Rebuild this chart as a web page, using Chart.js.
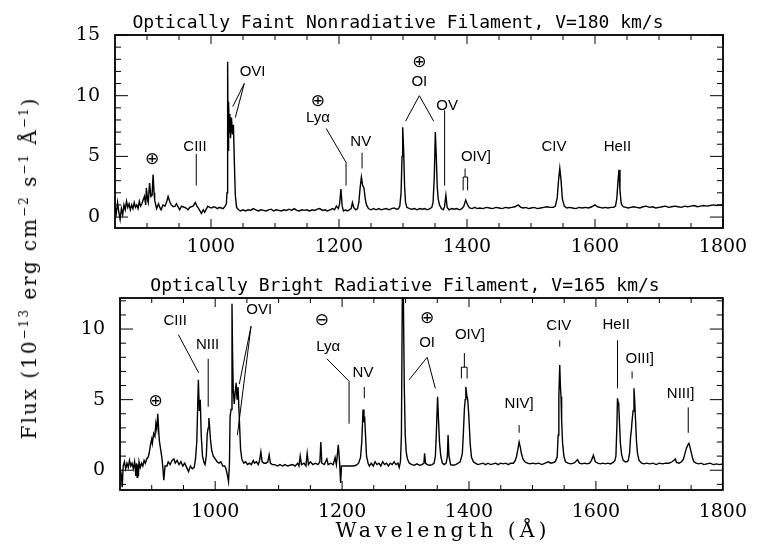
<!DOCTYPE html>
<html>
<head>
<meta charset="utf-8">
<script src="https://cdn.jsdelivr.net/npm/chart.js@4.4.1/dist/chart.umd.min.js"></script>
<style>
  body { margin: 0; background: #fff; }
  #wrap { position: relative; width: 758px; height: 552px; overflow: hidden; }
  canvas { position: absolute; left: 0; }
  .axt { position: absolute; white-space: nowrap; color: #000; font-family: 'DejaVu Serif'; }
  #ytitle { left: 29px; top: 268px; font-size: 20px; letter-spacing: 2px;
            transform: translate(-50%, -50%) rotate(-90deg); }
  #ytitle sup { font-size: 12px; }
  #xtitle { left: 443px; top: 530px; font-size: 20.5px; letter-spacing: 4px;
            transform: translate(-50%, -50%); }
</style>
</head>
<body>
<div id="wrap">
  <canvas id="top" width="758" height="270" style="top:0"></canvas>
  <canvas id="bot" width="758" height="282" style="top:270px"></canvas>
  <div id="ytitle" class="axt">Flux (10<sup>−13</sup> erg cm<sup>−2</sup> s<sup>−1</sup> Å<sup>−1</sup>)</div>
  <div id="xtitle" class="axt">Wavelength (Å)</div>
</div>
<script>
// upper panel: optically faint nonradiative filament
const topWave = [850,852,854,856,858,860,862,864,866,868,870,872,874,876,878,880,882,884,886,888,890,892,894,896,898,899,901,902,904,906,908,909.5,911,912,915,918,920,922,925,928,931,933,936,938,941,944,946,949,951,954,956,959,962,964,967,969,972,975.5,978,980,983,985,988,990,993,995,998,1001,1004,1007,1010,1013,1016,1019,1022,1024,1025,1026,1026.8,1027.5,1028.5,1029.5,1030.5,1032,1033.5,1035,1036.5,1038,1040,1043,1046,1050,1054,1058,1062,1066,1070,1074,1078,1082,1086,1090,1094,1098,1102,1106,1110,1114,1118,1122,1126,1130,1134,1138,1142,1146,1150,1154,1158,1162,1166,1170,1174,1178,1182,1186,1190,1193,1196,1199,1201,1203,1205,1207,1210,1213,1216,1219,1221,1223,1226,1229,1231,1233,1235,1237,1239,1241,1243,1246,1250,1254,1258,1262,1266,1270,1274,1278,1282,1286,1290,1293,1295,1297,1298.5,1299.5,1301,1302.5,1304,1306,1310,1314,1318,1322,1326,1330,1334,1338,1342,1345,1347,1349,1350.5,1352,1353.5,1355,1357,1360,1363,1365,1367,1369,1372,1376,1380,1384,1388,1392,1395,1398,1401,1404,1408,1412,1416,1420,1425,1430,1435,1440,1445,1450,1455,1460,1465,1470,1475,1480,1484,1488,1492,1496,1500,1505,1510,1515,1520,1525,1530,1535,1538,1541,1543,1545,1547,1549,1552,1556,1560,1565,1570,1575,1580,1585,1590,1595,1600,1604,1608,1612,1616,1620,1625,1629,1632,1634,1636,1637.5,1639,1641,1644,1648,1652,1656,1660,1665,1670,1675,1680,1685,1690,1695,1700,1705,1710,1715,1720,1725,1730,1735,1740,1745,1750,1755,1760,1765,1770,1775,1780,1785,1790,1795,1800];
const topFlux = [0.9,0.3,1.2,0.4,-0.2,0.7,0.2,1.0,0.6,1.3,0.8,1.1,0.6,1.0,0.7,1.2,0.8,1.0,0.7,1.3,0.9,1.1,1.4,1.7,1.0,2.4,1.4,1.2,2.8,1.7,1.8,3.5,2.0,1.4,0.7,1.1,0.8,0.6,1.0,0.9,1.3,1.7,1.2,1.0,0.85,0.9,1.1,0.8,0.6,0.9,0.85,0.8,0.7,0.6,0.8,0.85,0.9,1.2,0.9,0.75,0.5,0.3,0.6,0.4,0.7,0.9,0.8,0.75,0.85,0.8,0.7,0.8,0.75,0.7,0.9,1.1,2.0,12.8,5.5,9.5,7.0,8.5,6.5,8.2,6.8,7.6,4.5,1.8,0.8,0.6,0.5,0.6,0.5,0.6,0.55,0.7,0.6,0.5,0.6,0.55,0.5,0.6,0.65,0.5,0.6,0.55,0.5,0.6,0.55,0.65,0.55,0.7,0.55,0.5,0.6,0.55,0.6,0.5,0.6,0.55,0.65,0.7,0.55,0.6,0.5,0.6,0.7,0.6,0.9,0.7,1.1,2.3,0.9,0.5,0.6,0.5,0.6,0.7,1.2,0.8,0.6,0.7,1.2,2.4,3.3,2.6,2.4,1.5,1.0,0.7,0.6,0.7,0.6,0.7,0.6,0.65,0.7,0.6,0.7,0.75,0.65,0.7,0.9,2.0,5.0,7.4,5.5,2.5,1.2,0.8,0.7,0.65,0.7,0.6,0.7,0.65,0.7,0.6,0.7,0.8,1.2,3.5,7.0,5.0,2.5,1.5,1.0,0.7,0.6,0.9,1.8,0.8,0.6,0.7,0.65,0.7,0.6,0.7,0.9,1.4,1.0,0.75,0.7,0.8,0.7,0.75,0.7,0.8,0.75,0.7,0.8,0.75,0.7,0.8,0.75,0.8,0.85,1.0,0.8,0.75,0.8,0.7,0.75,0.8,0.7,0.75,0.8,0.85,0.8,0.8,0.9,1.6,3.0,4.0,3.0,1.5,0.9,0.75,0.8,0.75,0.7,0.8,0.75,0.8,0.75,0.85,1.0,0.85,0.8,0.75,0.8,0.75,0.8,0.8,0.9,1.5,3.0,3.9,2.2,1.1,0.85,0.8,0.75,0.8,0.85,0.8,0.75,0.85,0.9,0.8,0.85,0.75,0.8,0.85,0.9,0.8,0.85,0.9,0.85,0.8,0.9,0.85,0.9,0.95,0.85,0.9,0.95,0.9,0.95,1.0,0.95,1.0,1.0];

// lower panel: optically bright radiative filament
const botWave = [850,852,853.5,855,857,859,861,863,865,867,869,871,873,875,876,877,878,879,880,882,884,886,888,890,892,894,896,898,900,901,903,905,906.5,908,909.5,911,912,914,916,917.5,919,921,924,926,929,932,935,937,940,943,946,949,952,955,958,961,964,967,969,971,973.5,975,976.5,978,980,982,984,986,987.5,989,990,991,992.5,994.5,997,1000,1003,1006,1009,1012,1015,1017,1019,1021,1022.5,1023.5,1025,1026.5,1027.5,1028.5,1030,1031.5,1033,1034.5,1036,1038,1040,1042,1045,1048,1051,1054,1057,1060,1062,1065,1068,1070,1072,1074,1077,1080,1083,1085,1087,1090,1094,1098,1102,1106,1110,1114,1118,1122,1126,1130,1132,1134,1136,1140,1143,1145,1147,1150,1154,1158,1162,1165,1166.5,1168,1172,1176,1178,1182,1186,1189,1191,1194,1196,1197.7,1199,1203,1208,1213,1218,1222,1226,1229,1231,1233,1234.5,1235.5,1237,1238.5,1241,1243,1246,1249,1252,1255,1258,1261,1264,1267,1270,1273,1276,1279,1282,1285,1288,1290,1292,1293.5,1295,1296.5,1298,1299.5,1301,1303,1306,1310,1314,1318,1322,1326,1329,1330,1331.5,1334,1338,1342,1345,1347,1348.5,1350.5,1352,1353.5,1355.5,1358,1361,1364,1366,1367,1368.5,1371,1375,1379,1383,1386,1388,1389.5,1391,1392.7,1394,1395,1396.5,1398,1399.5,1400.5,1402,1404,1407,1410,1414,1418,1422,1426,1430,1434,1438,1442,1446,1450,1454,1458,1462,1466,1470,1473,1475,1476.7,1479,1481,1482.5,1485,1488,1492,1496,1500,1505,1510,1515,1520,1525,1529,1533,1536,1539,1540.5,1541.6,1543,1544,1545,1546,1547.5,1549.5,1552,1556,1560,1565,1568,1571,1574,1578,1582,1586,1590,1593,1596,1599,1603,1607,1611,1615,1619,1623,1627,1630,1631.5,1633,1634,1635,1636,1637.5,1638.6,1640.5,1643,1646,1649,1651,1653,1654.7,1656,1657,1658.5,1660,1661,1662.5,1664,1665.5,1668,1672,1676,1680,1685,1690,1695,1700,1705,1710,1715,1720,1723,1725,1727,1731,1735,1738,1741,1743,1745,1746.6,1748.5,1750,1752,1754.4,1758,1762,1766,1770,1775,1780,1785,1790,1795,1800];
const botFlux = [0.2,-0.3,-1.2,0.3,0.6,0.1,0.5,0.2,0.7,0.3,0.5,0.1,0.6,-0.4,0.5,-0.5,0.4,-0.4,0.6,0.2,0.5,0.3,0.7,0.5,0.8,0.9,1.2,1.8,2.2,1.9,2.6,2.4,3.3,2.9,4.0,2.8,2.1,1.5,0.9,0.2,-0.7,0.3,0.3,0.6,0.4,0.7,0.8,0.5,0.7,0.4,0.6,0.3,0.5,0.2,-0.1,0.3,0.1,0.2,0.8,2.0,6.4,4.2,5.0,2.5,1.0,0.6,0.4,1.0,2.6,3.0,3.7,3.2,2.2,1.4,1.0,0.8,0.6,0.5,0.6,0.3,0.3,0.1,-0.3,-0.8,0.5,3.8,4.3,11.8,8.0,5.7,4.7,5.5,6.2,5.0,5.9,3.7,1.5,0.8,0.5,0.6,0.4,0.5,0.4,0.7,0.5,0.6,0.4,0.7,1.3,0.6,0.5,0.5,0.6,1.1,0.5,0.4,0.4,0.3,0.4,0.3,0.4,0.3,0.35,0.4,0.3,0.5,0.3,1.0,0.4,0.5,0.3,1.2,0.4,0.6,0.4,0.5,0.4,0.6,2.0,0.5,0.4,0.8,0.4,0.5,0.4,0.9,0.4,1.8,0.6,-0.9,0.3,0.3,0.3,0.3,0.3,0.35,0.5,0.9,2.0,4.3,3.4,3.8,2.4,1.0,0.5,0.3,0.5,0.3,0.6,0.4,0.5,0.3,0.6,0.4,0.5,0.3,0.5,0.4,0.6,0.4,0.5,0.2,0.6,2.5,13.0,12.5,6.0,2.5,1.3,0.8,0.5,0.4,0.35,0.45,0.35,0.4,0.5,1.2,0.5,0.4,0.35,0.4,0.5,1.0,2.6,5.2,3.5,2.0,1.0,0.5,0.4,0.5,1.0,2.5,1.0,0.4,0.35,0.4,0.5,0.6,0.9,1.2,2.5,4.3,5.0,5.9,5.3,5.0,4.0,3.1,1.8,0.9,0.6,0.5,0.4,0.45,0.5,0.4,0.5,0.4,0.45,0.5,0.4,0.5,0.45,0.5,0.4,0.5,0.5,0.7,1.0,1.4,2.0,1.6,1.2,0.8,0.6,0.5,0.45,0.5,0.45,0.5,0.4,0.5,0.6,0.5,0.55,0.6,0.95,2.5,5.2,7.45,6.0,5.2,3.5,1.9,1.0,0.6,0.5,0.45,0.5,0.6,0.75,0.5,0.45,0.5,0.45,0.5,0.7,1.06,0.6,0.5,0.45,0.5,0.45,0.5,0.45,0.55,0.7,1.0,3.0,5.1,4.8,4.6,3.0,1.9,1.1,0.7,0.6,0.6,0.7,1.2,2.4,2.9,3.5,4.2,5.8,5.0,3.5,2.0,1.2,0.7,0.5,0.45,0.5,0.45,0.5,0.4,0.5,0.45,0.5,0.5,0.6,0.7,0.8,0.55,0.5,0.6,0.8,1.3,1.6,1.8,1.9,1.6,1.3,0.9,0.6,0.5,0.45,0.5,0.4,0.45,0.5,0.4,0.45,0.4,0.45];

const xTickLabels = [1000, 1200, 1400, 1600, 1800];
const topYTicks = [0, 5, 10, 15];
const botYTicks = [0, 5, 10];

// line identifications: [text, wavelength, flux]
const topNotes = [
  ['⊕', 908, 4.7], ['CIII', 975, 5.8], ['OVI', 1065, 12.0], ['⊕', 1167, 9.5],
  ['Lyα', 1167, 8.2], ['NV', 1234, 6.2], ['⊕', 1325.5, 12.7], ['OI', 1325.5, 11.1],
  ['OV', 1369, 9.2], ['OIV]', 1414, 5.0], ['CIV', 1536, 5.8], ['HeII', 1635, 5.8]
];
const topLeaders = [
  [[977, 5.2], [977, 2.6]],
  [[1052, 11.0], [1034, 9.1]], [[1052, 11.0], [1038, 8.2]],
  [[1180, 7.3], [1211, 4.5], [1211, 2.6]],
  [[1236, 5.3], [1236, 4.0]],
  [[1304, 7.9], [1325.5, 10.0], [1348, 7.9]],
  [[1365, 8.8], [1365, 2.6]],
  [[1397, 4.0], [1397, 3.3]],
  [[1394, 2.2], [1394, 3.3], [1401, 3.3], [1401, 2.2]]
];
const botNotes = [
  ['⊕', 906, 4.85], ['CIII', 937, 10.6], ['NIII', 988, 8.9], ['OVI', 1069.5, 11.35],
  ['⊖', 1168, 10.6], ['Lyα', 1178, 8.75], ['NV', 1233, 6.9], ['⊕', 1334, 10.75],
  ['OI', 1334, 9.0], ['OIV]', 1401.5, 9.6], ['NIV]', 1479, 4.7], ['CIV', 1541.6, 10.2],
  ['HeII', 1632, 10.3], ['OIII]', 1669, 7.9], ['NIII]', 1733.5, 5.4]
];
const botLeaders = [
  [[942, 9.6], [974, 6.9]],
  [[989, 7.9], [989, 4.5]],
  [[1056.5, 10.2], [1035, 2.5]], [[1056.5, 10.2], [1038, 6.1]],
  [[1176, 7.9], [1211, 6.3], [1211, 3.3]],
  [[1235, 5.9], [1235, 5.1]],
  [[1305.5, 6.4], [1334, 8.0], [1347, 5.8]],
  [[1392.7, 8.3], [1392.7, 7.3]],
  [[1388, 6.5], [1388, 7.3], [1397, 7.3], [1397, 6.5]],
  [[1479, 3.2], [1479, 2.65]],
  [[1543, 9.2], [1543, 8.75]],
  [[1634, 9.2], [1634, 5.8]],
  [[1657, 7.0], [1657, 6.5]],
  [[1745.5, 4.45], [1745.5, 2.65]]
];

// box, inward ticks, panel title and line labels
const frame = {
  id: 'frame',
  afterDraw(chart, args, o) {
    const {ctx, chartArea: a, scales: {x, y}} = chart;
    ctx.save();
    ctx.strokeStyle = '#000';
    ctx.lineWidth = 1.8;
    ctx.strokeRect(a.left, a.top, a.width, a.height);
    ctx.lineWidth = 1;
    ctx.beginPath();
    for (let v = 900; v <= 1800; v += 50) {
      const px = x.getPixelForValue(v);
      const len = v % 200 === 0 ? 9 : 5;
      ctx.moveTo(px, a.top); ctx.lineTo(px, a.top + len);
      ctx.moveTo(px, a.bottom); ctx.lineTo(px, a.bottom - len);
    }
    for (let v = Math.ceil(y.min); v <= y.max; v++) {
      const py = y.getPixelForValue(v);
      const len = v % 5 === 0 ? 13 : 6;
      ctx.moveTo(a.left, py); ctx.lineTo(a.left + len, py);
      ctx.moveTo(a.right, py); ctx.lineTo(a.right - len, py);
    }
    ctx.stroke();

    ctx.beginPath();
    o.leaders.forEach(pts => {
      pts.forEach(([wx, wy], i) => {
        const px = x.getPixelForValue(wx), py = y.getPixelForValue(wy);
        if (i === 0) ctx.moveTo(px, py); else ctx.lineTo(px, py);
      });
    });
    ctx.stroke();

    ctx.fillStyle = '#000';
    ctx.textAlign = 'center';
    ctx.textBaseline = 'middle';
    o.notes.forEach(([t, wx, wy]) => {
      ctx.font = (t === '⊕' || t === '⊖') ? '17px "DejaVu Sans"' : '15px "Liberation Sans"';
      ctx.fillText(t, x.getPixelForValue(wx), y.getPixelForValue(wy));
    });

    ctx.font = '18px "DejaVu Sans Mono"';
    ctx.textBaseline = 'alphabetic';
    ctx.fillText(o.title, o.titleX, a.top - 7);
    ctx.restore();
  }
};

function makePanel(id, wave, flux, yMin, yMax, yTicks, pad, yWidth, xHeight, xPad, title, titleX, notes, leaders) {
  return new Chart(document.getElementById(id), {
    type: 'line',
    data: {
      datasets: [{
        data: wave.map((w, i) => ({x: w, y: flux[i]})),
        borderColor: '#000',
        borderWidth: 1.4,
        pointRadius: 0,
        tension: 0
      }]
    },
    options: {
      responsive: false,
      animation: false,
      events: [],
      layout: {padding: pad},
      plugins: {
        legend: {display: false},
        tooltip: {enabled: false},
        frame: {title, titleX, notes, leaders}
      },
      scales: {
        x: {
          type: 'linear', min: 850, max: 1800,
          grid: {display: false, drawTicks: false},
          border: {display: false},
          afterBuildTicks: s => { s.ticks = xTickLabels.map(v => ({value: v})); },
          afterFit: s => { s.height = xHeight; },
          ticks: {color: '#000', padding: xPad, maxRotation: 0, callback: v => String(v),
                  font: {family: 'DejaVu Serif', size: 19}}
        },
        y: {
          min: yMin, max: yMax,
          grid: {display: false, drawTicks: false},
          border: {display: false},
          afterBuildTicks: s => { s.ticks = yTicks.map(v => ({value: v})); },
          afterFit: s => { s.width = yWidth; },
          ticks: {color: '#000', padding: 15, callback: v => String(v),
                  font: {family: 'DejaVu Serif', size: 19}}
        }
      }
    },
    plugins: [frame]
  });
}

makePanel('top', topWave, topFlux, -0.9, 15, topYTicks,
  {left: 0, right: 35, top: 35, bottom: 0}, 115, 42, 8,
  'Optically Faint Nonradiative Filament, V=180 km/s', 398, topNotes, topLeaders);
makePanel('bot', botWave, botFlux, -1.4, 12.2, botYTicks,
  {left: 0, right: 30, top: 28, bottom: 0}, 120, 62, 11,
  'Optically Bright Radiative Filament, V=165 km/s', 405, botNotes, botLeaders);
</script>
</body>
</html>
